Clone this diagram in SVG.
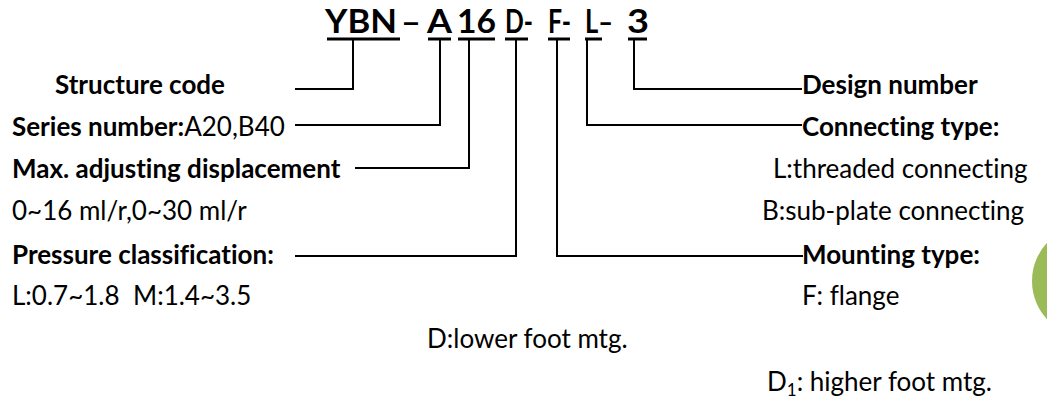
<svg xmlns="http://www.w3.org/2000/svg" width="1047" height="399" viewBox="0 0 1047 399">
<style>
text{font-family:Lato,"Liberation Sans",sans-serif;fill:#000;font-variant-ligatures:none}
.t{font-size:32px;font-weight:bold}
.b{font-size:26px;font-weight:bold}
.r{font-size:26px}
.c{fill:none;stroke:#000;stroke-width:2}
.u{stroke:#000;stroke-width:3}
</style>
<rect width="1047" height="399" fill="#fff"/>
<circle cx="1088" cy="281" r="56" fill="#9bbb59"/>
<g id="title">
<text class="t" x="325" y="33" textLength="72" lengthAdjust="spacingAndGlyphs">YBN</text>
<text class="t" x="401" y="33" textLength="20" lengthAdjust="spacingAndGlyphs">–</text>
<text class="t" x="427" y="33" textLength="25" lengthAdjust="spacingAndGlyphs">A</text>
<text class="t" x="457" y="33" textLength="39" lengthAdjust="spacingAndGlyphs">16</text>
<text class="t" x="505" y="33" textLength="28" lengthAdjust="spacingAndGlyphs">D-</text>
<text class="t" x="548" y="33" textLength="23" lengthAdjust="spacingAndGlyphs">F-</text>
<text class="t" x="585" y="33" textLength="28" lengthAdjust="spacingAndGlyphs">L–</text>
<text class="t" x="627" y="33" textLength="22" lengthAdjust="spacingAndGlyphs">3</text>
<line class="u" x1="327" y1="39" x2="400" y2="39"/>
<line class="u" x1="428" y1="39" x2="451" y2="39"/>
<line class="u" x1="458" y1="39" x2="495" y2="39"/>
<line class="u" x1="505" y1="39" x2="528" y2="39"/>
<line class="u" x1="548" y1="39" x2="570" y2="39"/>
<line class="u" x1="585" y1="39" x2="602" y2="39"/>
<line class="u" x1="628" y1="39" x2="647" y2="39"/>
</g>
<g id="connectors">
<polyline class="c" points="353,40 353,89 295,89"/>
<polyline class="c" points="440,40 440,125 295,125"/>
<polyline class="c" points="469,40 469,168 355,168"/>
<polyline class="c" points="516,40 516,256 295,256"/>
<polyline class="c" points="557,40 557,256 803,256"/>
<polyline class="c" points="587,40 587,125 802,125"/>
<polyline class="c" points="634,40 634,89 802,89"/>
</g>
<g id="structure-code"><text class="b" x="55" y="94">Structure code</text></g>
<g id="series-number"><text x="12" y="136"><tspan class="b">Series number:</tspan><tspan class="r">A20,B40</tspan></text></g>
<g id="max-displacement"><text class="b" x="12" y="178">Max. adjusting displacement</text><text class="r" x="12" y="220">0~16 ml/r,0~30 ml/r</text></g>
<g id="pressure"><text class="b" x="12" y="264">Pressure classification:</text><text class="r" y="305"><tspan x="12">L:0.7~1.8</tspan><tspan x="133">M:1.4~3.5</tspan></text></g>
<g id="design-number"><text class="b" x="802" y="94">Design number</text></g>
<g id="connecting-type"><text class="b" x="802" y="136">Connecting type:</text><text class="r" x="773" y="178">L:threaded connecting</text><text class="r" x="762" y="220">B:sub-plate connecting</text></g>
<g id="mounting-type"><text class="b" x="802" y="264">Mounting type:</text><text class="r" x="802" y="305">F: flange</text><text class="r" x="427" y="348">D:lower foot mtg.</text><text class="r" x="767" y="391">D<tspan font-size="17" dy="5">1</tspan><tspan dy="-5">: higher foot mtg.</tspan></text></g>
</svg>
